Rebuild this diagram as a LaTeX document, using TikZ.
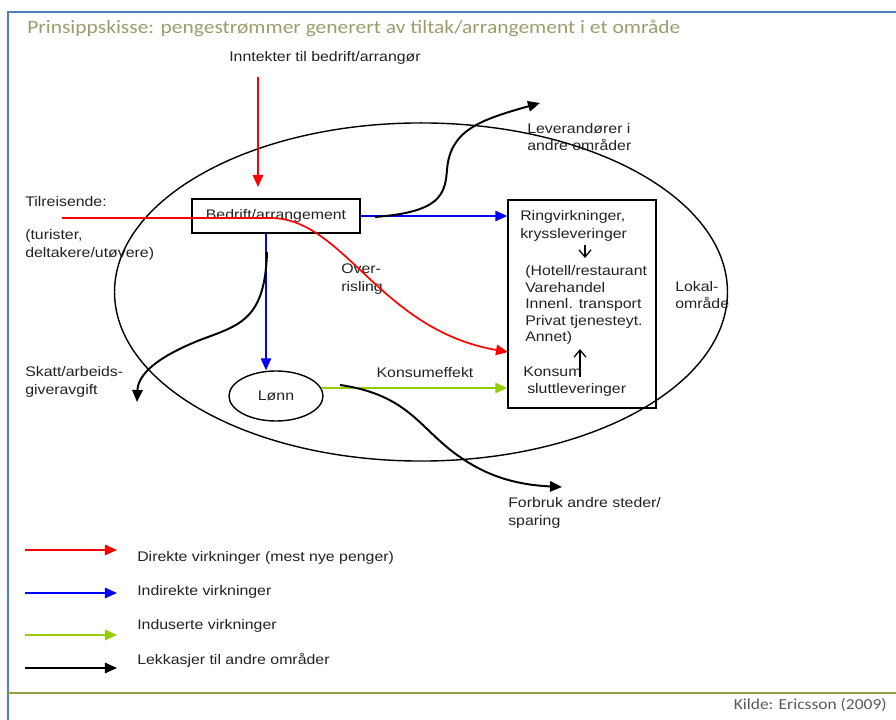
\documentclass[tikz,border=0pt]{standalone}
\usepackage{fontspec}
\setmainfont{Liberation Sans}[FakeStretch=1.14]
\newfontfamily\titlefont{Carlito}[FakeStretch=1.14]
\usetikzlibrary{arrows.meta,shapes.geometric}
\definecolor{rammeblaa}{HTML}{4F81BD}
\definecolor{tittelgroenn}{HTML}{9C9C6E}
\definecolor{linjegroenn}{HTML}{98A046}
\definecolor{kildegraa}{HTML}{595959}
\definecolor{induksjon}{HTML}{99CC00}
\definecolor{tekstgraa}{HTML}{222222}

\begin{document}
\begin{tikzpicture}[x=0.025cm,y=-0.025cm,>={Triangle[length=3mm,width=2.6mm]},
  tekst/.style={font=\fontsize{9.9}{12.3}\selectfont,text=tekstgraa,inner sep=0pt,align=left,anchor=west},
  boks/.style={draw,line width=1pt,text=tekstgraa,font=\fontsize{9.9}{12.3}\selectfont},
  pil/.style={->,line width=1.2pt},
  lekk/.style={->,line width=1.4pt},
  liten/.style={-{Straight Barb[length=1.8mm,width=3mm]},line width=0.9pt}]
  \useasboundingbox (0,0) rectangle (896,720);

  % Ramme, tittel og kilde
  \draw[rammeblaa,line width=1.4pt] (8,720) -- (8,12) -- (896,12);
  \node[anchor=west,inner sep=0pt,text=tittelgroenn,font=\titlefont\fontsize{13.4}{15}\selectfont] (tittel) at (27,28)
    {Prinsippskisse: pengestrømmer generert av tiltak/arrangement i et område};
  \draw[linjegroenn,line width=1.4pt] (8,693) -- (896,693);
  \node[anchor=east,inner sep=0pt,text=kildegraa,font=\titlefont\fontsize{10.9}{13}\selectfont] (kilde) at (887,705)
    {Kilde: Ericsson (2009)};

  % Lokalområdet
  \draw[line width=1pt] (421,292) ellipse [x radius=7.66cm,y radius=4.225cm];
  \node[tekst] (lokal) at (675,295) {Lokal-\\område};

  % Bokser
  \node[boks,minimum width=4.2cm,minimum height=0.85cm] (bedrift) at (276,216) {Bedrift/arrangement};
  \node[boks,minimum width=3.7cm,minimum height=5.2cm] (ring) at (582,304) {};
  \node[boks,ellipse,minimum width=2.35cm,minimum height=1.25cm] (lonn) at (276,396) {Lønn};

  % Tekster
  \node[tekst,anchor=center] (inntekt) at (325,58) {Inntekter til bedrift/arrangør};
  \node[tekst] (tilr) at (25,202) {Tilreisende:};
  \node[tekst] (turister) at (25,245) {(turister,\\deltakere/utøvere)};
  \node[tekst] (skatt) at (25,382) {Skatt/arbeids-\\giveravgift};
  \node[tekst] (lev) at (527,137) {Leverandører i\\andre områder};
  \node[tekst] (over) at (341,279) {Over-\\risling};
  \node[tekst] (ringtxt) at (520,226) {Ringvirkninger,\\kryssleveringer};
  \node[tekst,font=\fontsize{9.9}{11.8}\selectfont] (hotell) at (525,305)
    {(Hotell/restaurant\\Varehandel\\Innenl. transport\\Privat tjenesteyt.\\Annet)};
  \node[tekst] (konsum) at (523,372) {Konsum};
  \node[tekst] (slutt) at (527,390) {sluttleveringer};
  \node[tekst,anchor=center] (konsumeff) at (425,373) {Konsumeffekt};
  \node[tekst] (forbruk) at (508,513) {Forbruk andre steder/\\sparing};

  % Direkte virkninger
  \coordinate (inn-a) at (258,77);
  \coordinate (inn-b) at (258,187);
  \draw[pil,red] (inn-a) -- (inn-b);
  \coordinate (tilr-a) at (62,218);
  \coordinate (tilr-b) at (508,352);
  \draw[pil,red] (tilr-a) -- (272,218) .. controls (345,220) and (380,330) .. (tilr-b);

  % Indirekte og induserte virkninger
  \draw[pil,blue] (bedrift.east) -- (ring.west |- bedrift.east);
  \draw[pil,blue] ([xshift=-0.25cm]bedrift.south) -- ([xshift=-0.25cm]bedrift.south |- lonn.north);
  \draw[pil,induksjon] (lonn.10) -- (ring.west |- lonn.10);

  % Lekkasjer
  \coordinate (lev-a) at (375,217);
  \coordinate (lev-b) at (540,103);
  \draw[lekk] (lev-a) .. controls (440,212) and (445,195) .. (447,170)
    .. controls (450,130) and (480,120) .. (lev-b);
  \coordinate (skatt-a) at (267,252);
  \coordinate (skatt-b) at (137,402);
  \draw[lekk] (skatt-a) .. controls (265,320) and (240,325) .. (200,340)
    .. controls (155,358) and (138,375) .. (skatt-b);
  \coordinate (forbruk-a) at (340,385);
  \coordinate (forbruk-b) at (562,487);
  \draw[lekk] (forbruk-a) .. controls (410,395) and (420,430) .. (460,457)
    .. controls (490,478) and (520,485) .. (forbruk-b);

  % Piler inne i boksen
  \coordinate (ned-a) at (585,245);
  \coordinate (ned-b) at (585,258);
  \draw[liten] (ned-a) -- (ned-b);
  \coordinate (opp-a) at (580,377);
  \coordinate (opp-b) at (580,349);
  \draw[liten] (opp-a) -- (opp-b);

  % Tegnforklaring
  \foreach \farge/\ypil/\ytekst/\navn/\forklaring in {red/550/558/dir/{Direkte virkninger (mest nye penger)},
      blue/593/592/ind/{Indirekte virkninger}, induksjon/635/626/idu/{Induserte virkninger},
      black/668/660/lek/{Lekkasjer til andre områder}} {
    \coordinate (tegn-\navn-a) at (25,\ypil);
    \coordinate (tegn-\navn-b) at (117,\ypil);
    \draw[pil,\farge] (tegn-\navn-a) -- (tegn-\navn-b);
    \node[tekst] (tegn-\navn) at (137,\ytekst) {\forklaring};
  }
\end{tikzpicture}
\end{document}
